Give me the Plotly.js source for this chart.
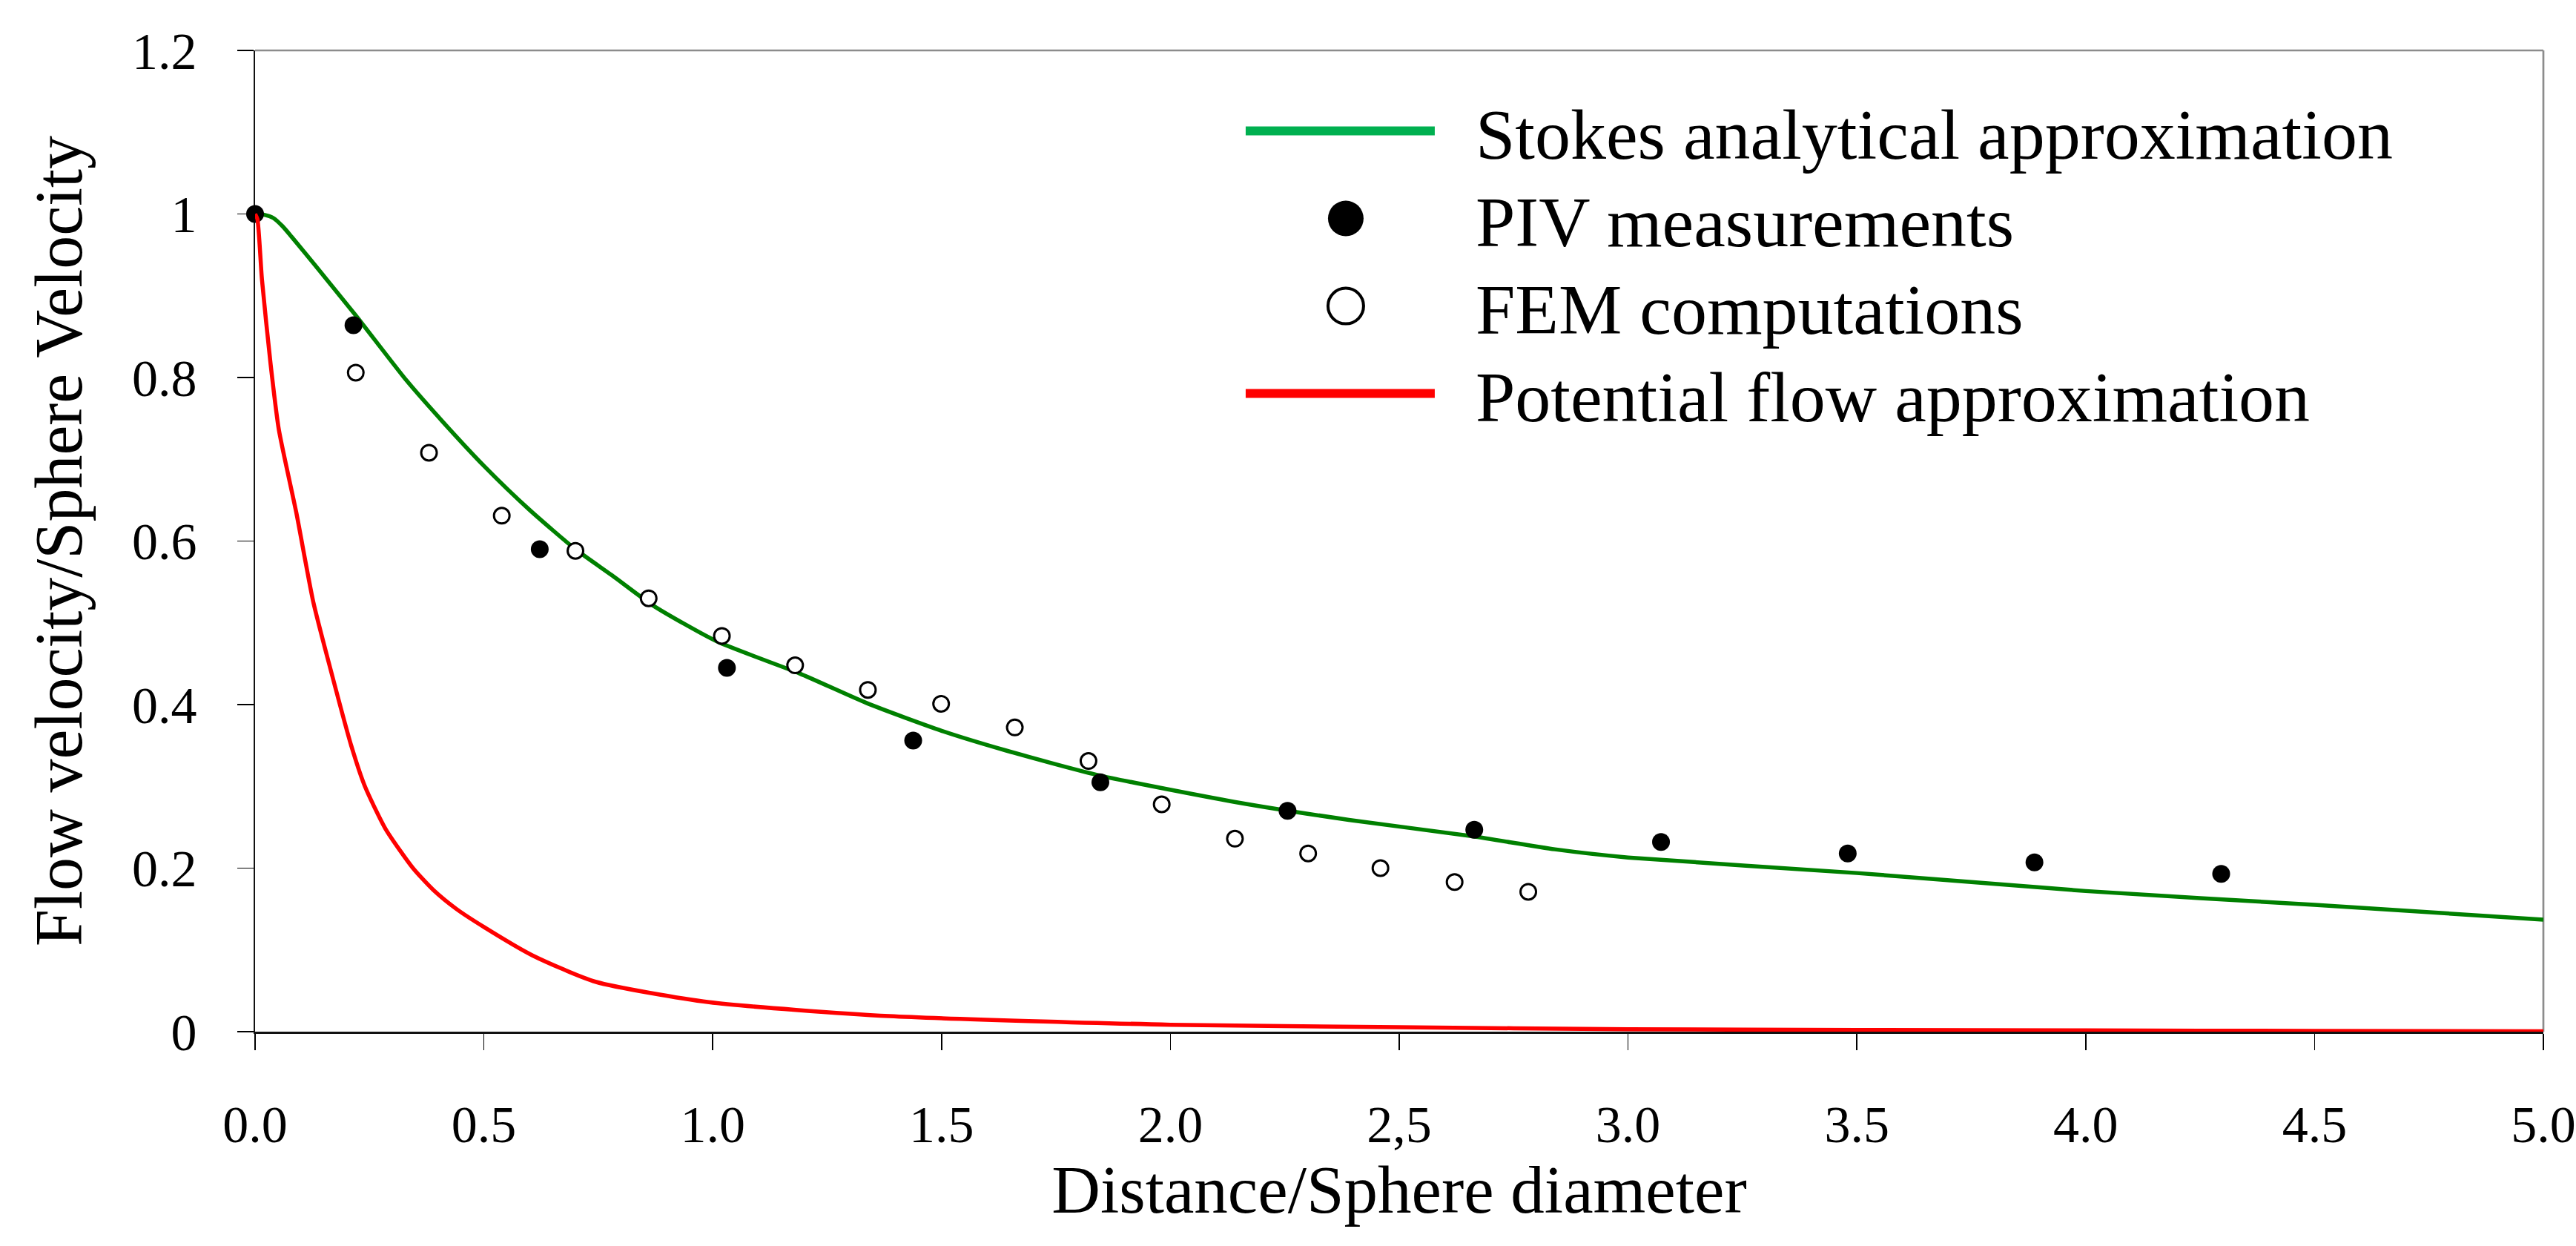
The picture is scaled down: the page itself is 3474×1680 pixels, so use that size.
<!DOCTYPE html>
<html>
<head>
<meta charset="utf-8">
<script src="https://cdn.plot.ly/plotly-3.0.1.min.js"></script>
<style>
  html, body { margin: 0; padding: 0; background: #ffffff; }
  #chart { width: 3474px; height: 1680px; }
</style>
</head>
<body>
<div id="chart"></div>
<script>
// ---- Data ----
const seriesNames = [
  "Stokes analytical approximation",
  "PIV measurements",
  "FEM computations",
  "Potential flow approximation"
];

const stokesX = [0, 0.02, 0.04, 0.06, 0.08, 0.13, 0.22, 0.33, 0.41, 0.50, 0.60, 0.70, 0.78, 0.87, 1.01, 1.19, 1.34, 1.50, 1.64, 1.84, 2.14, 2.39, 2.66, 2.84, 3.00, 3.50, 4.00, 4.50, 5.00];
const stokesY = [1.000, 0.999, 0.995, 0.985, 0.972, 0.938, 0.876, 0.797, 0.746, 0.692, 0.638, 0.590, 0.558, 0.521, 0.477, 0.438, 0.401, 0.368, 0.344, 0.314, 0.281, 0.259, 0.239, 0.223, 0.213, 0.194, 0.172, 0.155, 0.137];

const pivX = [0, 0.215, 0.622, 1.031, 1.438, 1.847, 2.256, 2.664, 3.072, 3.480, 3.888, 4.296];
const pivY = [1.000, 0.864, 0.590, 0.445, 0.356, 0.305, 0.270, 0.247, 0.232, 0.218, 0.207, 0.193];

const femX = [0.220, 0.380, 0.539, 0.700, 0.860, 1.020, 1.180, 1.339, 1.499, 1.660, 1.821, 1.981, 2.141, 2.301, 2.459, 2.621, 2.782];
const femY = [0.806, 0.708, 0.631, 0.588, 0.530, 0.484, 0.448, 0.418, 0.401, 0.372, 0.331, 0.278, 0.236, 0.218, 0.200, 0.183, 0.171];

const potX = [0, 0.005, 0.015, 0.034, 0.052, 0.090, 0.127, 0.164, 0.210, 0.240, 0.285, 0.345, 0.390, 0.440, 0.500, 0.607, 0.744, 0.992, 1.386, 2.0, 2.5, 3.0, 3.5, 4.0, 4.5, 5.0];
const potY = [1.000, 0.994, 0.920, 0.816, 0.736, 0.635, 0.526, 0.445, 0.350, 0.300, 0.248, 0.200, 0.173, 0.150, 0.128, 0.093, 0.061, 0.036, 0.019, 0.0085, 0.0054, 0.0030, 0.0020, 0.0015, 0.0010, 0.0005];

const xTickVals = [0, 0.5, 1, 1.5, 2, 2.5, 3, 3.5, 4, 4.5, 5];
const xTickText = ["0.0", "0.5", "1.0", "1.5", "2.0", "2,5", "3.0", "3.5", "4.0", "4.5", "5.0"];
const yTickVals = [0, 0.2, 0.4, 0.6, 0.8, 1, 1.2];
const yTickText = ["0", "0.2", "0.4", "0.6", "0.8", "1", "1.2"];

const xTitle = "Distance/Sphere diameter";
const yTitle = "Flow velocity/Sphere Velocity";

// ---- Styles ----
const stokesColor = "#008000";
const stokesLegendColor = "#00b050";
const potColor = "#ff0000";
const FONT = "\"Liberation Serif\", \"Times New Roman\", serif";

const traces = [
  {
    x: stokesX, y: stokesY, name: seriesNames[0], type: "scatter", mode: "lines",
    line: { color: stokesColor, width: 5.5, shape: "spline", smoothing: 0.6 },
    cliponaxis: false
  },
  {
    x: pivX, y: pivY, name: seriesNames[1], type: "scatter", mode: "markers",
    marker: { symbol: "circle", size: 24, color: "#000000", line: { width: 0 } },
    cliponaxis: false
  },
  {
    x: femX, y: femY, name: seriesNames[2], type: "scatter", mode: "markers",
    marker: { symbol: "circle", size: 21, color: "#ffffff", line: { color: "#000000", width: 3 } },
    cliponaxis: false
  },
  {
    x: potX, y: potY, name: seriesNames[3], type: "scatter", mode: "lines",
    line: { color: potColor, width: 5.5, shape: "spline", smoothing: 0.6 },
    cliponaxis: false
  }
];

const layout = {
  width: 3474,
  height: 1680,
  margin: { l: 344, r: 44, t: 68, b: 289, pad: 0 },
  paper_bgcolor: "#ffffff",
  plot_bgcolor: "#ffffff",
  font: { family: FONT, color: "#000000", size: 70 },
  showlegend: true,
  legend: {
    x: 0.4329, y: 0.97, xanchor: "left", yanchor: "top",
    font: { family: FONT, size: 96, color: "#000000" },
    itemwidth: 300,
    bgcolor: "rgba(0,0,0,0)",
    borderwidth: 0,
    tracegroupgap: 0
  },
  xaxis: {
    range: [0, 5],
    tickvals: xTickVals, ticktext: xTickText,
    ticks: "outside", ticklen: 22, tickwidth: 1.6, tickcolor: "#000000",
    showline: true, linecolor: "#111111", linewidth: 2.5,
    showgrid: false, zeroline: false,
    tickfont: { family: FONT, size: 70, color: "#000000" },
    ticklabelstandoff: 40,
    title: { text: xTitle, font: { family: FONT, size: 91, color: "#000000" }, standoff: 0 },
    automargin: false,
    layer: "below traces",
    fixedrange: true
  },
  yaxis: {
    range: [0, 1.2],
    tickvals: yTickVals, ticktext: yTickText,
    ticks: "outside", ticklen: 22, tickwidth: 1.6, tickcolor: "#000000",
    showline: true, linecolor: "#111111", linewidth: 2.5,
    showgrid: false, zeroline: false,
    tickfont: { family: FONT, size: 70, color: "#000000" },
    ticklabelstandoff: 40,
    title: { text: yTitle, font: { family: FONT, size: 90, color: "#000000" }, standoff: 38 },
    automargin: false,
    layer: "below traces",
    fixedrange: true
  },
  shapes: [
    { type: "line", xref: "paper", yref: "paper", x0: 0, x1: 1, y0: 1, y1: 1,
      line: { color: "#8c8c8c", width: 2.7 }, layer: "below" },
    { type: "line", xref: "paper", yref: "paper", x0: 1, x1: 1, y0: 0, y1: 1,
      line: { color: "#8c8c8c", width: 2.7 }, layer: "below" }
  ]
};

const LEGEND_ROW = 118;

Plotly.newPlot("chart", traces, layout, { displayModeBar: false, staticPlot: true }).then(function (gd) {
  const items = gd.querySelectorAll(".legend .traces");
  let y0 = null;
  items.forEach(function (g, i) {
    // tighter row spacing, as in the reference legend
    const tr = g.getAttribute("transform") || "";
    const m = tr.match(/translate\(\s*([-\d.eE]+)[ ,]+([-\d.eE]+)\s*\)/);
    if (m) {
      if (i === 0) { y0 = parseFloat(m[2]); }
      if (y0 !== null) g.setAttribute("transform", "translate(" + parseFloat(m[1]) + "," + (y0 + i * LEGEND_ROW) + ")");
    }
    // larger legend symbols
    const ln = g.querySelector(".legendlines path");
    if (ln) {
      ln.setAttribute("d", "M-2,0h257");
      ln.style.strokeWidth = "12px";
      if (i === 0) ln.style.stroke = stokesLegendColor;
    }
    const pt = g.querySelector(".legendpoints path");
    if (pt) {
      pt.setAttribute("transform", "translate(135,0) scale(3)");
      if (i === 2) pt.style.strokeWidth = "1.35px";
    }
  });
});
</script>
</body>
</html>
